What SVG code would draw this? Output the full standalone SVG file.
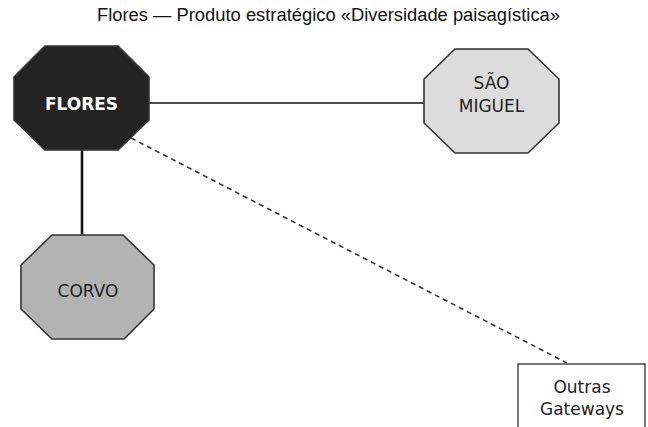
<svg xmlns="http://www.w3.org/2000/svg" width="648" height="427" viewBox="0 0 648 427">
<style>
.node text{font-family:"DejaVu Sans",Verdana,sans-serif;font-size:17px;text-anchor:middle}
.oct{stroke:#333;stroke-width:1.6}
</style>
<rect width="648" height="427" fill="#fff"/>
<text x="328.5" y="21" font-family="'Liberation Sans Narrow','Liberation Sans',Arial,sans-serif" font-size="18" text-anchor="middle" textLength="463" lengthAdjust="spacingAndGlyphs" fill="#111">Flores — Produto estratégico «Diversidade paisagística»</text>
<g id="connectors" fill="none">
<line x1="149" y1="103" x2="424" y2="103" stroke="#111" stroke-width="1.4"/>
<line x1="82" y1="150" x2="82" y2="235" stroke="#111" stroke-width="2.6"/>
<line x1="131" y1="138" x2="567" y2="363" stroke="#333" stroke-width="1.6" stroke-dasharray="5,4"/>
</g>
<g id="flores" class="node">
<polygon class="oct" points="45,46 118,46 149,77 149,120 118,150 45,150 14,120 14,77" fill="#232323" stroke="#666"/>
<text x="81.5" y="110" fill="#fff" font-weight="bold">FLORES</text>
</g>
<g id="sao-miguel" class="node">
<polygon class="oct" points="455,49 528,49 559,79 559,123 528,153 455,153 424,123 424,79" fill="#dcdcdc"/>
<text x="491.5" y="89" fill="#222">SÃO</text>
<text x="491.5" y="112" fill="#222">MIGUEL</text>
</g>
<g id="corvo" class="node">
<polygon class="oct" points="52,235 123,235 154,265 154,309 124,339 52,339 21,309 21,265" fill="#b3b3b3"/>
<text x="88" y="297" fill="#222">CORVO</text>
</g>
<g id="outras-gateways" class="node">
<rect x="518" y="364" width="127" height="80" fill="#fff" stroke="#555" stroke-width="1.6"/>
<text x="582" y="393" fill="#222" font-size="16">Outras</text>
<text x="582" y="415" fill="#222" font-size="16">Gateways</text>
</g>
</svg>
